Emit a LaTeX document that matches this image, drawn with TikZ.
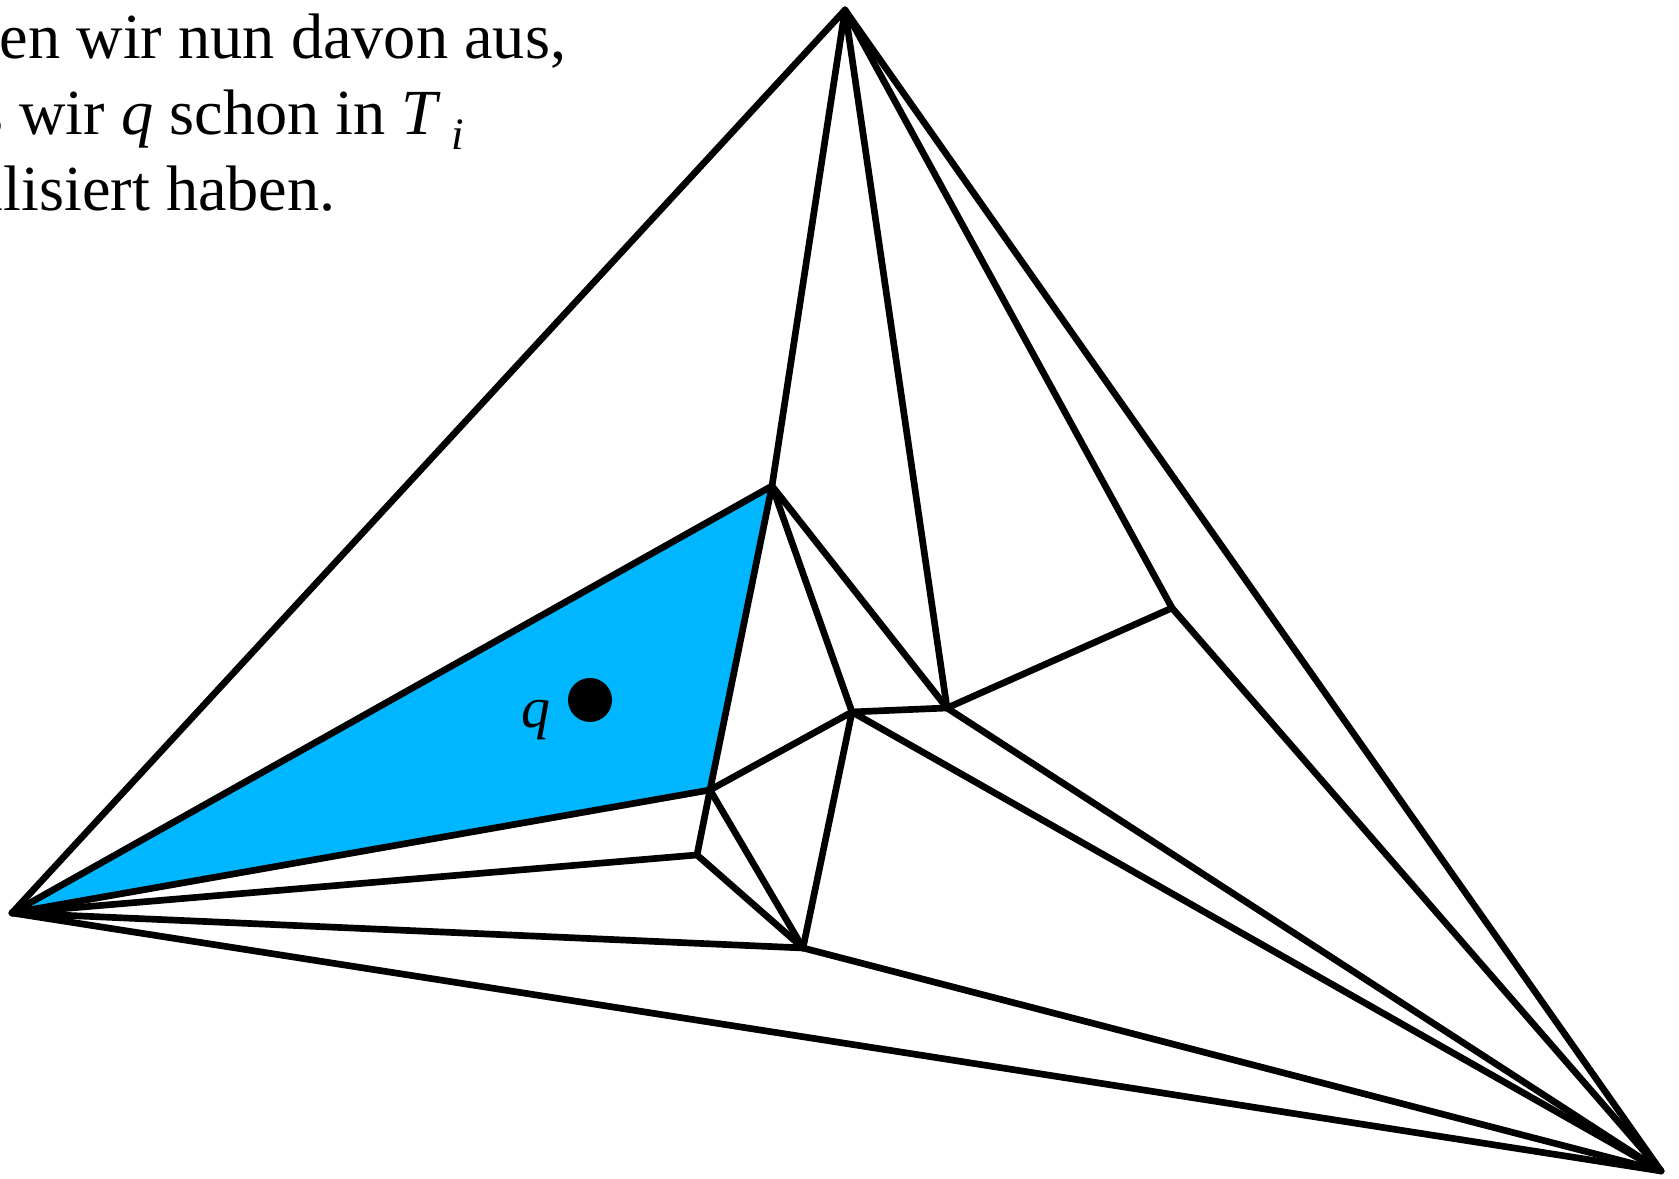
\documentclass[tikz,border=0pt]{standalone}
\usepackage{fontspec}
\setmainfont{Liberation Serif}
\usepackage{xcolor}
\definecolor{qblue}{RGB}{0,183,255}
\usetikzlibrary{positioning}
\tikzset{
  tline/.style={draw=black, line width=1.9pt, line join=round, line cap=round},
  txtline/.style={anchor=base west, inner sep=0pt, font=\fontsize{18.3}{22}\selectfont},
  qdot/.style={circle, fill=black, minimum size=0.44cm, inner sep=0pt},
}

\begin{document}
\begin{tikzpicture}
\useasboundingbox (0,0) rectangle (16.79,11.79);
\clip (0,0) rectangle (16.79,11.79);

% Vertices of the subdivision
\coordinate (apex) at (8.45,11.69);
\coordinate (lft) at (0.12,2.66);
\coordinate (rgt) at (16.61,0.08);
\coordinate (va) at (7.72,6.93);
\coordinate (vb) at (7.10,3.89);
\coordinate (vc) at (8.52,4.67);
\coordinate (vd) at (9.47,4.71);
\coordinate (ve) at (11.72,5.71);
\coordinate (vf) at (6.97,3.24);
\coordinate (vg) at (8.03,2.31);

% Triangle containing q
\fill[qblue] (lft) -- (va) -- (vb) -- cycle;

% Outer triangle
\draw[tline] (apex) -- (lft) -- (rgt) -- cycle;

% Inner edges
\draw[tline] (apex) -- (va);
\draw[tline] (apex) -- (vd);
\draw[tline] (apex) -- (ve);
\draw[tline] (va) -- (lft);
\draw[tline] (va) -- (vb);
\draw[tline] (va) -- (vc);
\draw[tline] (va) -- (vd);
\draw[tline] (vb) -- (lft);
\draw[tline] (vb) -- (vc);
\draw[tline] (vb) -- (vf);
\draw[tline] (vb) -- (vg);
\draw[tline] (vf) -- (lft);
\draw[tline] (vf) -- (vg);
\draw[tline] (vg) -- (lft);
\draw[tline] (vg) -- (vc);
\draw[tline] (vg) -- (rgt);
\draw[tline] (vc) -- (vd);
\draw[tline] (vc) -- (rgt);
\draw[tline] (vd) -- (ve);
\draw[tline] (vd) -- (rgt);
\draw[tline] (ve) -- (rgt);

% Query point
\node[qdot] (qpt) at (5.90,4.79) {};
\node[anchor=base west, inner sep=0pt, font=\fontsize{16.5}{16.5}\selectfont\itshape] (qlab) at (5.21,4.51) {q};

% Text, cut at the left edge
\node[txtline] (line1) at (-1.08,11.20) {Gehen wir nun davon aus,};
\node[txtline] (line2) at (-1.08,10.44) {dass wir \textit{q} schon in \textit{T}\kern3pt\raisebox{-0.22em}{\fontsize{12.8}{12.8}\selectfont\textit{i}}};
\node[txtline] (line3) at (-1.08,9.68) {lokalisiert haben.};

\end{tikzpicture}
\end{document}
